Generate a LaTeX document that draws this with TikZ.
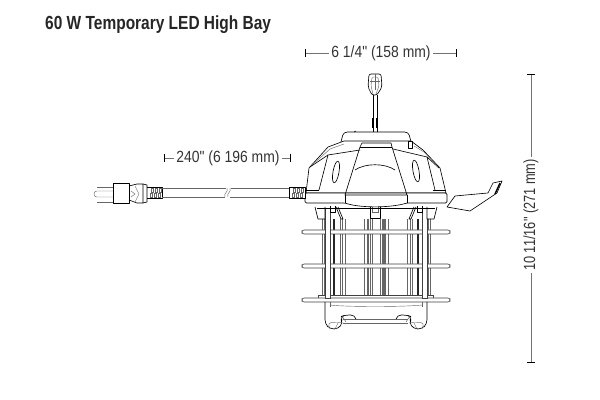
\documentclass[tikz,border=0pt]{standalone}
\usepackage{fontspec}
\setmainfont{Liberation Sans}
\newfontfamily\dimfont{Liberation Sans}
\usetikzlibrary{arrows.meta}

\tikzset{
    part/.style={draw=black, line width=0.45pt, line join=round},
    fine/.style={draw=black!60, line width=0.3pt},
    ring/.style={draw=black!75, fill=white, line width=0.45pt, rounded corners=1.5pt},
    dimline/.style={draw=black!55, line width=0.6pt, -{Bar[black,width=5pt,line width=0.6pt]}},
    dimtext/.style={text=black!80, inner sep=2pt, font=\dimfont\fontsize{11.5}{12}\selectfont, xscale=0.86},
}

\begin{document}
\begin{tikzpicture}[x=0.025cm, y=-0.025cm]
    \useasboundingbox (0, 0) rectangle (600, 400);
    \node[anchor=west, inner sep=0pt, text=black!85, xscale=0.815,
        font=\fontsize{13.5}{14}\selectfont\bfseries] (title) at (45, 25) {60 W Temporary LED High Bay};

    % dimensions
    \node[dimtext] (width) at (381, 53) {6 1/4" (158 mm)};
    \coordinate (widthl) at (305, 53);
    \coordinate (widthr) at (457, 53);
    \draw[dimline] (width) -- (widthl);
    \draw[dimline] (width) -- (widthr);
    \node[dimtext] (cord) at (228, 158) {240" (6 196 mm)};
    \coordinate (cordl) at (164, 158);
    \coordinate (cordr) at (291, 158);
    \draw[dimline] (cord) -- (cordl);
    \draw[dimline] (cord) -- (cordr);
    \node[rotate=90, dimtext, xscale=0.92] (height) at (531, 215) {10 11/16" (271 mm)};
    \coordinate (heightt) at (531, 74);
    \coordinate (heightb) at (531, 363);
    \draw[dimline] (height) -- (heightt);
    \draw[dimline] (height) -- (heightb);

    % cord and plug
    \draw[fine] (97, 187) -- (113, 187) (97, 202) -- (113, 202);
    \draw[fine, rounded corners=2pt] (113, 191) -- (94, 191) -- (94, 197) -- (113, 197);
    \draw[part] (113, 183) rectangle (129, 203);
    \draw[part] (129, 186) -- (137, 184) -- (143, 184) -- (143, 203) -- (137, 203) -- (129, 200);
    \draw[fine] (131, 191) -- (135, 194) -- (131, 197) (135, 186) -- (139, 194) -- (135, 202);
    \draw[part] (143, 184) -- (147, 185) -- (147, 202) -- (143, 203);
    \draw[part] (147, 187) -- (162, 187) -- (162, 198) -- (147, 198);
    \foreach \x in {151, 155, 159} {
        \draw[fine] (\x, 188) rectangle ++(2, 4);
        \draw[fine] (\x-1, 193) rectangle ++(2, 4);
    }
    \draw[fine] (162, 188) -- (226, 188) (231, 188) -- (289, 188);
    \draw[fine] (162, 197) -- (225, 197) (230, 197) -- (289, 197);
    \draw[fine] (230, 188) .. controls (232, 192) and (226, 193) .. (228, 197);
    \draw[fine] (227, 188) .. controls (229, 192) and (223, 193) .. (225, 197);

    % rods
    \foreach \s in {-1, 1} {
        \begin{scope}[shift={(376, 0)}, xscale=\s]
            \foreach \x in {4, 6, 9, 12, 31, 34, 36, 52, 54} {
                \draw[fine] (\x, 219) -- (\x, 295);
            }
            \draw[draw=black!85, line width=1.4pt] (42, 219) -- (42, 295);
            \draw[draw=black!60, line width=0.9pt] (8, 219) -- (8, 295);
        \end{scope}
    }

    % base and rings
    \draw[ring, rounded corners=0pt] (318, 295) rectangle (433, 299);
    \foreach \y in {232, 266, 300} {
        \draw[ring] (302, \y-2) -- (450, \y-2) -- (450, \y+2) -- (302, \y+2) -- cycle;
    }

    % cage bars and feet
    \foreach \s in {-1, 1} {
        \begin{scope}[shift={(376, 0)}, xscale=\s]
            \draw[ring, rounded corners=0pt] (46, 208) -- (46, 298) -- (51, 298) -- (51, 208) -- cycle;
            \draw[part, rounded corners=3pt] (51, 302) -- (51, 324) -- (46, 329) -- (38, 329)
                -- (33, 323) -- (36, 317) -- (31, 315) -- (21, 315) -- (20, 319);
            \draw[fine] (46, 302) -- (46, 307);
            \draw[fine, rounded corners=2pt] (33, 323) -- (38, 322) -- (48, 323) -- (46, 329);
            \draw[fine] (38, 323) -- (41, 329);
            \draw[fine, rounded corners=2pt] (30, 322) -- (34, 316);
            \draw[part, fill=white] (61, 207) -- (58, 219) -- (51, 219) -- (51, 207)
                (38, 207) -- (33, 219) -- (35, 219) -- (40, 207);
            \draw[part] (46, 206) -- (46, 212) -- (41, 212) -- (41, 206);
        \end{scope}
    }
    \draw[fine] (343, 319) -- (408, 319) (343, 323) -- (408, 323);
    \draw[fine] (330, 305) .. controls (345, 307) and (405, 307) .. (422, 305);
    \draw[part] (370, 206) rectangle (380, 218);
    \draw[fine] (372, 206) -- (372, 212) -- (378, 212) -- (378, 206);
    \draw[part] (317, 208) -- (435, 208);

    % hanging tab
    \draw[part, fill=white] (447, 207) -- (455, 196) -- (488, 193) -- (493, 183) -- (502, 181)
        -- (497, 193) -- (470, 211) -- cycle;
    \draw[draw=black, line width=1pt] (500, 183) -- (495, 194);

    % fixture body
    \draw[part, fill=white, rounded corners=1pt] (341, 142) -- (343, 134) -- (346, 132)
        -- (406, 132) -- (409, 134) -- (411, 142);
    \draw[part] (354, 132) -- (356, 131);
    \draw[part, fill=white] (306, 193) -- (309, 168) -- (328, 147) -- (344, 141) -- (411, 141)
        -- (423, 150) -- (440, 168) -- (446, 193) -- cycle;
    \draw[part, fill=white, rounded corners=1pt] (305, 193) -- (447, 193) -- (447, 203)
        -- (407, 203) .. controls (390, 208) and (360, 208) .. (345, 203) -- (305, 203) -- cycle;
    \draw[part] (306, 190) -- (319, 190) (433, 190) -- (446, 190);
    \draw[part] (319, 190) -- (328, 155) -- (360, 150);
    \draw[part] (435, 190) -- (427, 157) -- (393, 149);
    \draw[part] (310, 167) -- (328, 155) (427, 157) -- (439, 168);
    \draw[fine] (312, 165) -- (330, 149) -- (344, 144);
    \draw[fine] (414, 146) -- (424, 152) -- (438, 167);
    \draw[part] (362, 143) -- (391, 143) -- (392, 147) -- (407, 195) -- (345, 195) -- (360, 147) -- cycle;
    \draw[part] (360, 147) -- (392, 147);
    \draw[part] (355, 170) .. controls (365, 163) and (385, 163) .. (395, 170);
    \draw[part] (345, 195) -- (345, 203) (407, 195) -- (407, 203);
    \draw[part] (336, 172) ellipse[x radius=3, y radius=11, rotate=-10];
    \draw[part] (416, 171) ellipse[x radius=3, y radius=11, rotate=10];
    \draw[part] (408, 141) rectangle (412, 148);

    % strain relief at the fixture
    \draw[part, fill=white] (289, 187) -- (305, 187) -- (305, 198) -- (289, 198) -- cycle;
    \foreach \x in {293, 297, 301} {
        \draw[fine] (\x, 188) rectangle ++(2, 4);
        \draw[fine] (\x-1, 193) rectangle ++(2, 4);
    }

    % hanger
    \draw[part, rounded corners=1.5pt] (372, 95) -- (368, 87) -- (369, 74) -- (381, 74)
        -- (382, 87) -- (377, 95) -- cycle;
    \draw[fine, rounded corners=1pt] (373, 94) -- (371, 86) -- (372, 77) -- (378, 77) -- (379, 86) -- (376, 94);
    \draw[fine] (370, 81) -- (380, 81) (375, 74) -- (375, 90);
    \draw[part] (373, 95) -- (373, 132) (377, 95) -- (377, 132);
    \draw[draw=black, line width=1.1pt] (373, 118) -- (373, 128) (377, 118) -- (377, 128);
\end{tikzpicture}
\end{document}
